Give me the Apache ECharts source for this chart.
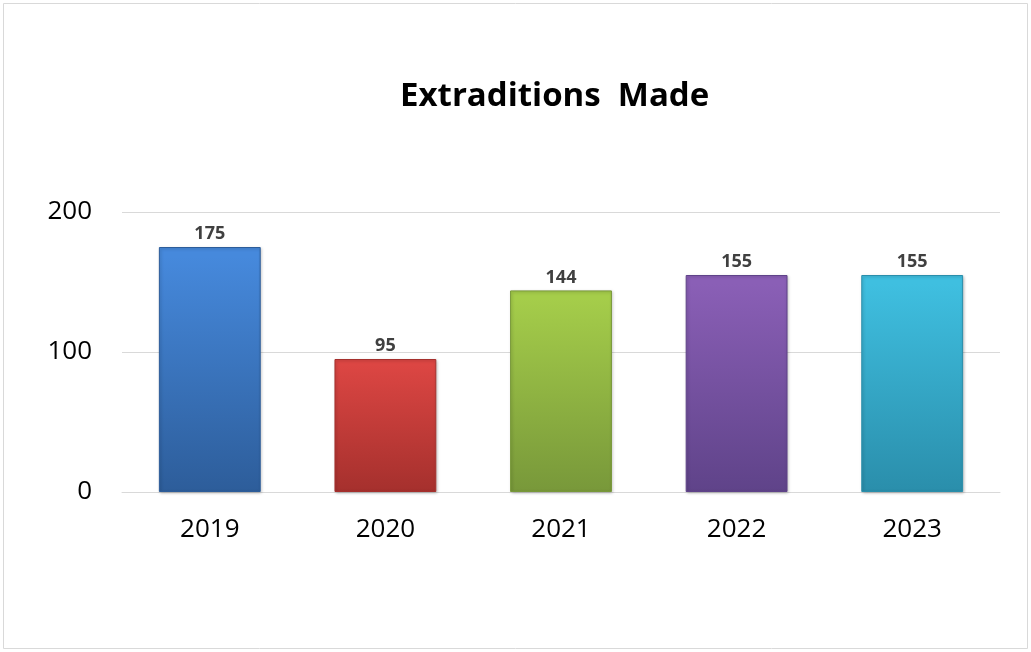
<!DOCTYPE html>
<html>
<head>
<meta charset="utf-8">
<script src="https://cdn.jsdelivr.net/npm/echarts@6/dist/echarts.min.js"></script>
<style>
  html, body { margin: 0; padding: 0; background: #fff; }
  #main { width: 1031px; height: 652px; }
</style>
</head>
<body>
<div id="main"></div>
<script>
  // 数据
  var years = ['2019', '2020', '2021', '2022', '2023'];
  var extraditions = [175, 95, 144, 155, 155];
  var yTicks = [0, 100, 200];
  // bar colours, top -> bottom
  var topColors = ['#4689dc', '#dc4643', '#a5cd4a', '#8a5fb6', '#3fbfe0'];
  var bottomColors = ['#2d5d9a', '#a5302d', '#78983a', '#5f4389', '#2a8eab'];

  var chart = echarts.init(document.getElementById('main'));

  var barData = extraditions.map(function (v, i) {
    return {
      value: v,
      itemStyle: {
        color: new echarts.graphic.LinearGradient(0, 0, 0, 1, [
          { offset: 0, color: topColors[i] },
          { offset: 0.04, color: topColors[i] },
          { offset: 1, color: bottomColors[i] }
        ]),
        borderColor: bottomColors[i],
        borderWidth: 1,
        shadowColor: 'rgba(0,0,0,0.25)',
        shadowBlur: 3,
        shadowOffsetX: 1,
        shadowOffsetY: 1
      }
    };
  });

  var option = {
    animation: false,
    title: {
      text: 'Extraditions  Made',
      left: 395,
      top: 75,
      textStyle: {
        fontFamily: 'Open Sans',
        fontSize: 33,
        fontWeight: 'bold',
        color: '#000'
      }
    },
    graphic: [{
      type: 'rect',
      shape: { x: 3.5, y: 3.5, width: 1024, height: 645 },
      style: { fill: 'none', stroke: '#d9d9d9', lineWidth: 1 },
      silent: true
    }],
    grid: { left: 122, right: 31, top: 212, bottom: 160 },
    xAxis: {
      type: 'category',
      data: years,
      axisTick: { show: false },
      axisLine: { lineStyle: { color: '#d9d9d9', width: 1 } },
      axisLabel: {
        margin: 25,
        fontFamily: 'Open Sans',
        fontSize: 26,
        color: '#000'
      }
    },
    yAxis: {
      type: 'value',
      min: yTicks[0],
      max: yTicks[yTicks.length - 1],
      interval: 100,
      axisLine: { show: false },
      axisTick: { show: false },
      splitLine: { lineStyle: { color: '#d9d9d9', width: 1 } },
      axisLabel: {
        margin: 30,
        fontFamily: 'Open Sans',
        fontSize: 26,
        color: '#000'
      }
    },
    series: [{
      type: 'bar',
      data: barData,
      barWidth: '58%',
      label: {
        show: true,
        position: 'top',
        distance: 4,
        fontFamily: 'Open Sans',
        fontSize: 18,
        fontWeight: 'bold',
        color: '#404040'
      }
    }]
  };
  chart.setOption(option);
</script>
</body>
</html>
